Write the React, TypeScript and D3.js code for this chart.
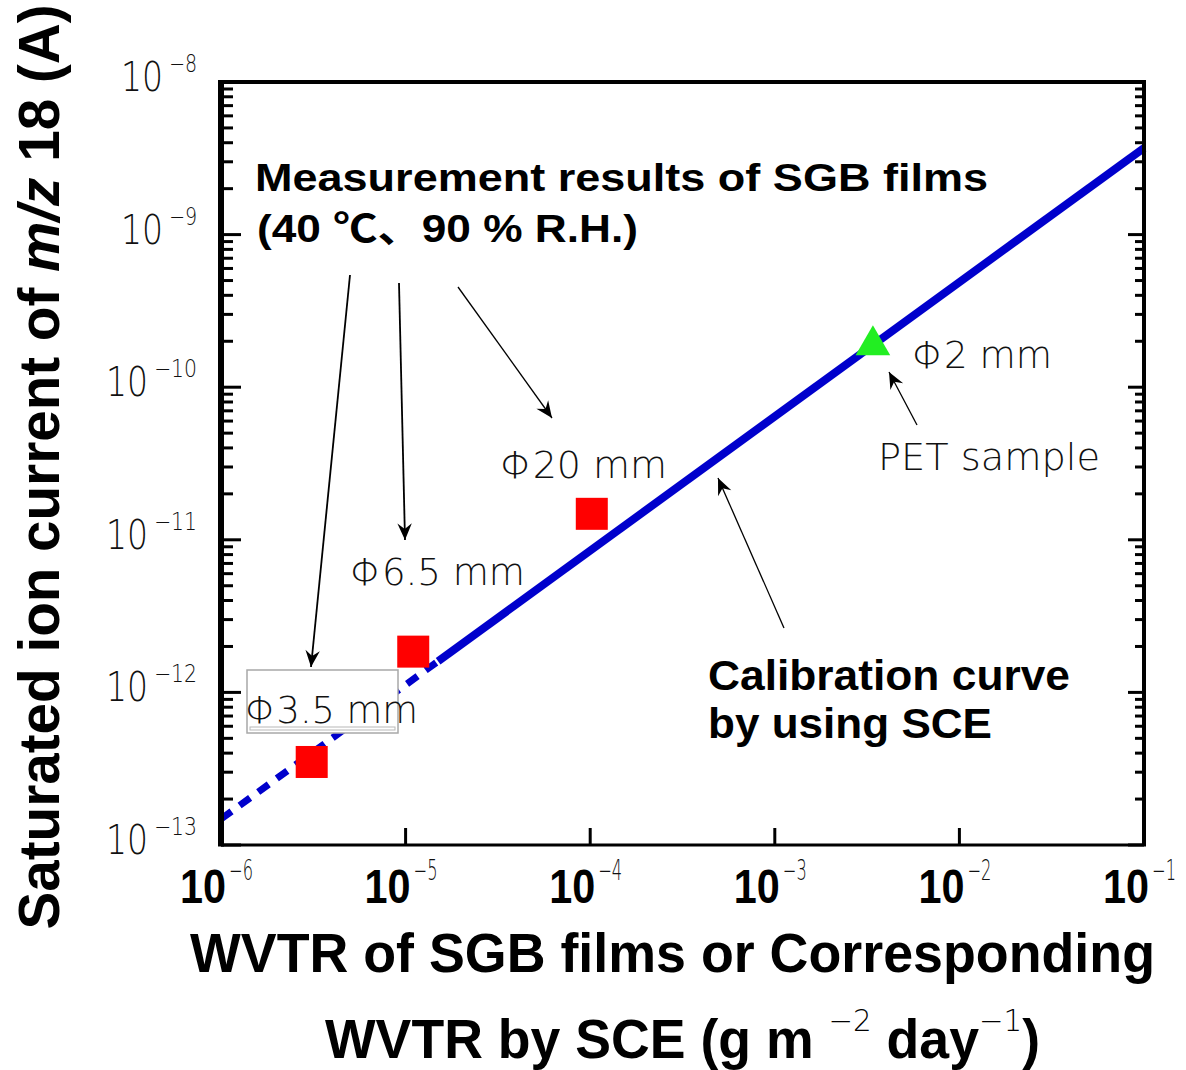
import React from 'react';
import * as d3 from 'd3';

// ---- data ----
const xTickValues = [1e-6, 1e-5, 1e-4, 1e-3, 1e-2, 1e-1];
const xTickExponents = ['−6', '−5', '−4', '−3', '−2', '−1'];
const yTickValues = [1e-13, 1e-12, 1e-11, 1e-10, 1e-9, 1e-8];
const yTickExponents = ['−13', '−12', '−11', '−10', '−9', '−8'];

// calibration curve by SCE (dashed = extrapolated part, solid = measured range)
const calibDashedX = [1e-6, 1.5e-5];
const calibDashedY = [1.48e-13, 1.6e-12];
const calibSolidX = [1.5e-5, 1e-1];
const calibSolidY = [1.6e-12, 3.7e-9];

// SGB film measurements (red squares)
const sgbX = [3.1e-6, 1.1e-5, 1.02e-4];
const sgbY = [3.5e-13, 1.85e-12, 1.48e-11];

// PET sample (green triangle)
const petX = [3.4e-3];
const petY = [1.94e-10];

// ---- layout ----
const W = 1186, H = 1070;
const X0 = 221, X1 = 1144, Y0 = 82, Y1 = 845;

const thinFont = "'DejaVu Sans', 'Liberation Sans', 'Noto Sans CJK JP', sans-serif";
const boldFont = "'Liberation Sans', 'Noto Sans CJK JP', sans-serif";
const thinWeight = 200;

export default function App() {
  const x = d3.scaleLog().domain([1e-6, 1e-1]).range([X0, X1]);
  const y = d3.scaleLog().domain([1e-13, 1e-8]).range([Y1, Y0]);

  const line = d3.line<[number, number]>().x(d => x(d[0])).y(d => y(d[1]));
  const dashedPts = calibDashedX.map((v, i) => [v, calibDashedY[i]] as [number, number]);
  const solidPts = calibSolidX.map((v, i) => [v, calibSolidY[i]] as [number, number]);

  // minor ticks for y
  const yMinor: number[] = [];
  for (let e = -13; e < -8; e++) {
    for (let m = 2; m <= 9; m++) yMinor.push(m * Math.pow(10, e));
  }

  const triSym = d3.symbol().type(d3.symbolTriangle).size(520);

  const arrows = [
    { x1: 350, y1: 275, x2: 311, y2: 667, w: 1.8 },
    { x1: 399, y1: 283, x2: 405, y2: 540, w: 1.8 },
    { x1: 458, y1: 287, x2: 552, y2: 418, w: 1.3 },
    { x1: 917, y1: 425, x2: 889, y2: 372, w: 1.3 },
    { x1: 784, y1: 628, x2: 718, y2: 478, w: 1.3 },
  ];

  const supW = (s: string) => (s.length > 2 ? 43 : 28);

  return (
    <svg width={W} height={H} style={{ position: 'absolute', left: 0, top: 0, background: '#fff' }}
      xmlns="http://www.w3.org/2000/svg">
      <defs>
        <marker id="ah" markerUnits="userSpaceOnUse" markerWidth="20" markerHeight="20"
          viewBox="-16 -8 18 16" refX="0" refY="0" orient="auto">
          <path d="M0,0 L-15,-6.5 L-10,0 L-15,6.5 Z" fill="#000" />
        </marker>
      </defs>
      <rect x={0} y={0} width={W} height={H} fill="#fff" />

      {/* calibration curve */}
      <path d={line(dashedPts) || ''} fill="none" stroke="#0000cc" strokeWidth={7}
        strokeDasharray="13,10" />
      <path d={line(solidPts) || ''} fill="none" stroke="#0000cc" strokeWidth={8} />

      {/* box around Φ3.5 mm label */}
      <rect x={247} y={670} width={151} height={63} fill="#fff" stroke="#a8a8a8" strokeWidth={1.5} />
      <rect x={250} y={727} width={145} height={3} fill="none" stroke="#b8b8b8" strokeWidth={1} />

      {/* SGB squares */}
      {sgbX.map((v, i) => (
        <rect key={i} x={x(v) - 16} y={y(sgbY[i]) - 16} width={32} height={32} fill="#ff0000" />
      ))}

      {/* PET triangle */}
      {petX.map((v, i) => (
        <path key={i} d={triSym() || ''} transform={`translate(${x(v)},${y(petY[i]) + 2})`} fill="#22ee22" />
      ))}

      {/* frame */}
      <line x1={X0} y1={Y0} x2={X1} y2={Y0} stroke="#000" strokeWidth={4} />
      <line x1={X1} y1={Y0 - 2} x2={X1} y2={Y1} stroke="#000" strokeWidth={4} />
      <line x1={X0} y1={Y1} x2={X1 + 2} y2={Y1} stroke="#000" strokeWidth={3} />
      <line x1={X0} y1={Y0 - 2} x2={X0} y2={Y1 + 1.5} stroke="#000" strokeWidth={6} />

      {/* y ticks left & right */}
      {yTickValues.map((v, i) => (
        <g key={'ym' + i}>
          <line x1={X0} x2={X0 + 20} y1={y(v)} y2={y(v)} stroke="#000" strokeWidth={3} />
          <line x1={X1} x2={X1 - 16} y1={y(v)} y2={y(v)} stroke="#000" strokeWidth={3} />
        </g>
      ))}
      {yMinor.map((v, i) => (
        <g key={'yn' + i}>
          <line x1={X0} x2={X0 + 12} y1={y(v)} y2={y(v)} stroke="#000" strokeWidth={3} />
          <line x1={X1} x2={X1 - 9} y1={y(v)} y2={y(v)} stroke="#000" strokeWidth={3} />
        </g>
      ))}

      {/* x ticks */}
      {xTickValues.map((v, i) => (
        <line key={'xt' + i} x1={x(v)} x2={x(v)} y1={Y1} y2={Y1 - 17} stroke="#000" strokeWidth={3} />
      ))}

      {/* y tick labels */}
      {yTickValues.map((v, i) => {
        const sw = supW(yTickExponents[i]);
        return (
          <g key={'yl' + i}>
            <text x={197 - sw - 6} y={y(v) + 9} textAnchor="end" fontFamily={thinFont} fontWeight={thinWeight}
              fontSize={40} fill="#111" textLength={42} lengthAdjust="spacingAndGlyphs">10</text>
            <text x={197} y={y(v) - 10} textAnchor="end" fontFamily={thinFont} fontWeight={thinWeight}
              fontSize={24} fill="#111" textLength={sw} lengthAdjust="spacingAndGlyphs">{yTickExponents[i]}</text>
          </g>
        );
      })}

      {/* x tick labels */}
      {xTickValues.map((v, i) => (
        <g key={'xl' + i}>
          <text x={x(v) + 5} y={903} textAnchor="end" fontFamily={boldFont} fontWeight="bold"
            fontSize={48} fill="#000" textLength={46} lengthAdjust="spacingAndGlyphs">10</text>
          <text x={x(v) + 8} y={880} textAnchor="start" fontFamily={thinFont} fontWeight={thinWeight}
            fontSize={28} fill="#111" textLength={24} lengthAdjust="spacingAndGlyphs">{xTickExponents[i]}</text>
        </g>
      ))}

      {/* axis titles */}
      <text x={190} y={972} fontFamily={boldFont} fontWeight="bold" fontSize={55} fill="#000"
        textLength={965} lengthAdjust="spacingAndGlyphs">WVTR of SGB films or Corresponding</text>
      <text x={325} y={1058} fontFamily={boldFont} fontWeight="bold" fontSize={55} fill="#000"
        textLength={715} lengthAdjust="spacingAndGlyphs">
        WVTR by SCE (g m <tspan fontSize={30} fontWeight={thinWeight} fontFamily={thinFont} dy={-27}>−2</tspan>
        <tspan dy={27}> day</tspan>
        <tspan fontSize={30} fontWeight={thinWeight} fontFamily={thinFont} dy={-27}>−1</tspan>
        <tspan dy={27}>)</tspan>
      </text>
      <text transform="translate(59,467) rotate(-90)" textAnchor="middle" fontFamily={boldFont}
        fontWeight="bold" fontSize={58} fill="#000" textLength={925} lengthAdjust="spacingAndGlyphs">
        Saturated ion current of <tspan fontStyle="italic">m/z</tspan> 18 (A)
      </text>

      {/* annotations */}
      <text x={255} y={191} fontFamily={boldFont} fontWeight="bold" fontSize={39} fill="#000"
        textLength={733} lengthAdjust="spacingAndGlyphs">Measurement results of SGB films</text>
      <text x={257} y={242} fontFamily={boldFont} fontWeight="bold" fontSize={39} fill="#000"
        textLength={381} lengthAdjust="spacingAndGlyphs">(40 ℃、90 % R.H.)</text>
      <text x={708} y={690} fontFamily={boldFont} fontWeight="bold" fontSize={43} fill="#000"
        textLength={362} lengthAdjust="spacingAndGlyphs">Calibration curve</text>
      <text x={708} y={738} fontFamily={boldFont} fontWeight="bold" fontSize={43} fill="#000"
        textLength={284} lengthAdjust="spacingAndGlyphs">by using SCE</text>

      <text x={500} y={478} fontFamily={thinFont} fontWeight={thinWeight} fontSize={38} fill="#111"
        textLength={167} lengthAdjust="spacingAndGlyphs">Φ20 mm</text>
      <text x={350} y={585} fontFamily={thinFont} fontWeight={thinWeight} fontSize={38} fill="#111"
        textLength={175} lengthAdjust="spacingAndGlyphs">Φ6.5 mm</text>
      <text x={245} y={723} fontFamily={thinFont} fontWeight={thinWeight} fontSize={38} fill="#111"
        textLength={173} lengthAdjust="spacingAndGlyphs">Φ3.5 mm</text>
      <text x={912} y={368} fontFamily={thinFont} fontWeight={thinWeight} fontSize={38} fill="#111"
        textLength={140} lengthAdjust="spacingAndGlyphs">Φ2 mm</text>
      <text x={878} y={470} fontFamily={thinFont} fontWeight={thinWeight} fontSize={38} fill="#111"
        textLength={222} lengthAdjust="spacingAndGlyphs">PET sample</text>

      {arrows.map((a, i) => (
        <line key={'ar' + i} x1={a.x1} y1={a.y1} x2={a.x2} y2={a.y2} stroke="#000" strokeWidth={a.w}
          markerEnd="url(#ah)" />
      ))}
    </svg>
  );
}
